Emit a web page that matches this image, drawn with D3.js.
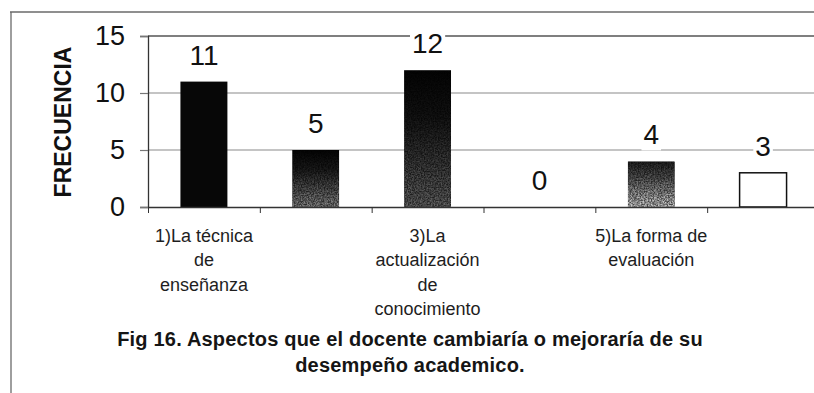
<!DOCTYPE html>
<html>
<head>
<meta charset="utf-8">
<script src="https://cdn.jsdelivr.net/npm/d3@7"></script>
<style>
  html, body { margin: 0; padding: 0; background: #fff; }
  svg { display: block; font-family: Arial, "Liberation Sans", sans-serif; }
</style>
</head>
<body>
<svg id="chart" width="814" height="393"></svg>
<script>
// Frequency of each aspect
const categories = ["1", "2", "3", "4", "5", "6"];
const frequencies = [11, 5, 12, 0, 4, 3];
// Axis labels, wrapped line by line; only every other category is labelled
const categoryLabels = [
  ["1)La técnica", "de", "enseñanza"],
  [],
  ["3)La", "actualización", "de", "conocimiento"],
  [],
  ["5)La forma de", "evaluación"],
  []
];
const yTicks = [0, 5, 10, 15];
const yTitle = "FRECUENCIA";
const titleLines = [
  "Fig 16. Aspectos que el docente cambiaría o mejoraría de su",
  "desempeño academico."
];

const svg = d3.select("#chart");
const plot = { left: 148, right: 819, top: 36, bottom: 207 };

const x = d3.scaleBand()
  .domain(categories)
  .range([plot.left, plot.right])
  .paddingInner(0.58)
  .paddingOuter(0.29);

const y = d3.scaleLinear()
  .domain([0, 15])
  .range([plot.bottom, plot.top]);

// Category boundaries for the tick marks under the base line
const xEdge = d3.scaleLinear()
  .domain([0, categories.length])
  .range([plot.left, plot.right]);

// Bar fills: vertical gradients from black toward grey, with a grainy texture
const defs = svg.append("defs");
const gradStops = {
  g2: ["#030303", "#141414", "#5e5e5e"],
  g3: ["#030303", "#0e0e0e", "#444444"],
  g5: ["#161616", "#3c3c3c", "#929292"]
};
Object.entries(gradStops).forEach(([id, cols]) => {
  const g = defs.append("linearGradient")
    .attr("id", id).attr("x1", 0).attr("y1", 0).attr("x2", 0).attr("y2", 1);
  g.append("stop").attr("offset", "0%").attr("stop-color", cols[0]);
  g.append("stop").attr("offset", "35%").attr("stop-color", cols[1]);
  g.append("stop").attr("offset", "100%").attr("stop-color", cols[2]);
});
// Grain: modulate the gradient brightness by a grey noise field
const grain = defs.append("filter").attr("id", "grain")
  .attr("x", 0).attr("y", 0).attr("width", 1).attr("height", 1)
  .attr("color-interpolation-filters", "sRGB");
grain.append("feTurbulence")
  .attr("type", "fractalNoise").attr("baseFrequency", 0.7)
  .attr("numOctaves", 2).attr("seed", 4).attr("result", "noise");
grain.append("feColorMatrix").attr("in", "noise").attr("type", "matrix")
  .attr("values", "2.2 0 0 0 -0.6  2.2 0 0 0 -0.6  2.2 0 0 0 -0.6  0 0 0 0 1")
  .attr("result", "grey");
grain.append("feComposite").attr("in", "SourceGraphic").attr("in2", "grey")
  .attr("operator", "arithmetic")
  .attr("k1", 1).attr("k2", 0.5).attr("k3", 0).attr("k4", 0)
  .attr("result", "mod");
grain.append("feComposite").attr("in", "mod").attr("in2", "SourceGraphic")
  .attr("operator", "in");

const barFill = ["#070707", "url(#g2)", "url(#g3)", "#222", "url(#g5)", "#ffffff"];
const barGrain = [false, true, true, false, true, false];

// Outer frame
svg.append("line")
  .attr("x1", 10).attr("x2", 814).attr("y1", 12).attr("y2", 12)
  .attr("stroke", "#6a6a6a").attr("stroke-width", 1.3);
svg.append("line")
  .attr("x1", 11).attr("x2", 11).attr("y1", 12).attr("y2", 393)
  .attr("stroke", "#6a6a6a").attr("stroke-width", 1.3);

// Horizontal gridlines
svg.append("g")
  .selectAll("line")
  .data(yTicks.filter(d => d > 0 && d < 15))
  .join("line")
  .attr("x1", plot.left).attr("x2", plot.right)
  .attr("y1", d => y(d)).attr("y2", d => y(d))
  .attr("stroke", "#8a8a8a").attr("stroke-width", 1.2);

// Top edge of plot area
svg.append("line")
  .attr("x1", plot.left).attr("x2", plot.right)
  .attr("y1", y(15)).attr("y2", y(15))
  .attr("stroke", "#555").attr("stroke-width", 1.3);

// Y axis
const yAxis = svg.append("g")
  .attr("transform", `translate(${plot.left},0)`)
  .call(d3.axisLeft(y).tickValues(yTicks).tickSize(8).tickPadding(15));
yAxis.select(".domain").attr("stroke", "#333").attr("stroke-width", 1.3);
yAxis.selectAll(".tick line").attr("stroke", "#777").attr("stroke-width", 1.2);
yAxis.selectAll(".tick text")
  .attr("font-size", 27).attr("fill", "#111")
  .attr("font-family", "Arial, 'Liberation Sans', sans-serif");

svg.append("text")
  .attr("transform", `translate(71,122) rotate(-90)`)
  .attr("text-anchor", "middle")
  .attr("font-size", 23).attr("font-weight", "bold").attr("fill", "#111")
  .text(yTitle);

// Bars
svg.append("g")
  .selectAll("rect")
  .data(frequencies)
  .join("rect")
  .attr("x", (d, i) => x(categories[i]))
  .attr("width", x.bandwidth())
  .attr("y", d => y(d))
  .attr("height", d => y(0) - y(d))
  .attr("fill", (d, i) => barFill[i])
  .attr("filter", (d, i) => barGrain[i] ? "url(#grain)" : null)
  .attr("stroke", (d, i) => i === 5 ? "#111" : "none")
  .attr("stroke-width", 1.5);

// X axis base line with boundary ticks
const xAxis = svg.append("g")
  .attr("transform", `translate(0,${plot.bottom})`)
  .call(d3.axisBottom(xEdge)
    .tickValues(d3.range(categories.length + 1))
    .tickFormat("")
    .tickSizeInner(6)
    .tickSizeOuter(0));
xAxis.select(".domain").attr("stroke", "#333").attr("stroke-width", 1.3);
xAxis.selectAll(".tick line").attr("stroke", "#333");

// Value labels on white backing
const vl = svg.append("g")
  .selectAll("g")
  .data(frequencies)
  .join("g")
  .attr("transform", (d, i) =>
    `translate(${x(categories[i]) + x.bandwidth() / 2},${y(d) - 17})`);
vl.append("text")
  .attr("text-anchor", "middle")
  .attr("font-size", 28).attr("fill", "#111")
  .text(d => d);
vl.each(function () {
  const t = d3.select(this).select("text");
  const b = t.node().getBBox();
  d3.select(this).insert("rect", "text")
    .attr("x", b.x - 2).attr("y", b.y + 2)
    .attr("width", b.width + 4).attr("height", b.height - 2)
    .attr("fill", "#fff");
});

// Category labels
const cl = svg.append("g")
  .selectAll("text")
  .data(categoryLabels)
  .join("text")
  .attr("text-anchor", "middle")
  .attr("font-size", 18).attr("fill", "#1e1e1e")
  .attr("x", (d, i) => x(categories[i]) + x.bandwidth() / 2)
  .attr("y", 242);
cl.selectAll("tspan")
  .data(d => d)
  .join("tspan")
  .attr("x", function () { return d3.select(this.parentNode).attr("x"); })
  .attr("dy", (d, i) => i === 0 ? 0 : 24.4)
  .text(d => d);

// Figure caption
svg.append("text")
  .attr("text-anchor", "middle")
  .attr("font-size", 20).attr("font-weight", "bold").attr("fill", "#151515")
  .attr("letter-spacing", 0.2)
  .selectAll("tspan")
  .data(titleLines)
  .join("tspan")
  .attr("x", 410)
  .attr("y", (d, i) => 346 + i * 26)
  .text(d => d);
</script>
</body>
</html>
